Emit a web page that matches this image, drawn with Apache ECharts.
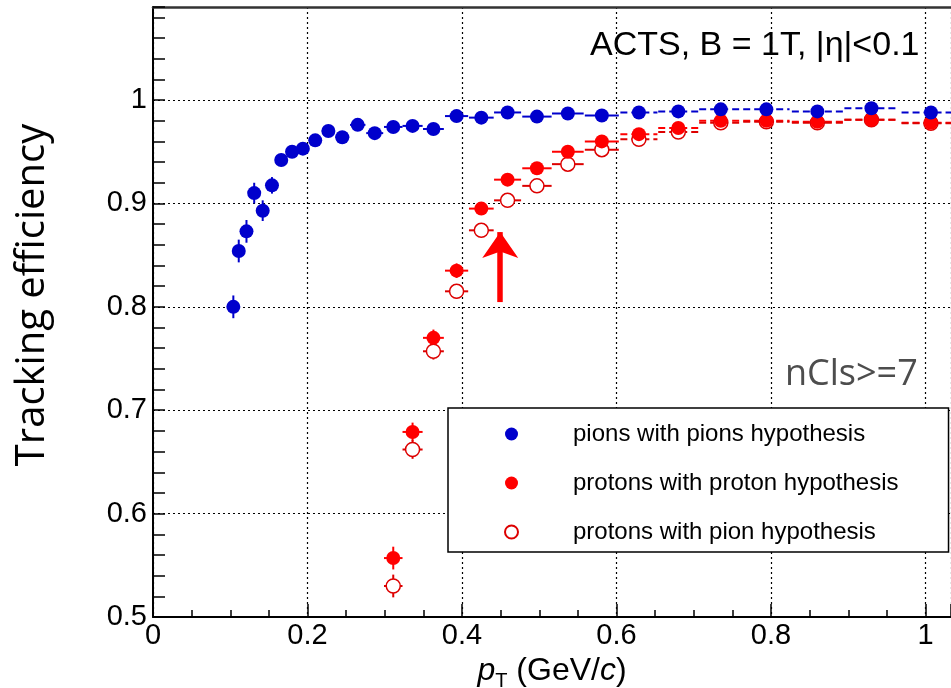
<!DOCTYPE html>
<html>
<head>
<meta charset="utf-8">
<script src="https://cdn.jsdelivr.net/npm/echarts@6/dist/echarts.min.js"></script>
<style>
  html, body { margin: 0; padding: 0; background: #fff; }
  #main { width: 951px; height: 688px; }
</style>
</head>
<body>
<div id="main"></div>
<script>
// pions with pions hypothesis
var pionPt   = [0.104, 0.111, 0.121, 0.131, 0.142, 0.154, 0.166, 0.180, 0.194, 0.210,
                0.227, 0.245, 0.265, 0.287, 0.311, 0.336, 0.363, 0.393, 0.425, 0.459,
                0.497, 0.537, 0.581, 0.629, 0.680, 0.735, 0.794, 0.860, 0.930, 1.007];
var pionEff  = [0.800, 0.854, 0.873, 0.910, 0.893, 0.9175, 0.942, 0.950, 0.953, 0.961,
                0.970, 0.964, 0.976, 0.968, 0.974, 0.975, 0.972, 0.9845, 0.983, 0.988,
                0.984, 0.987, 0.985, 0.988, 0.989, 0.991, 0.991, 0.989, 0.992, 0.988];
var pionPtErr  = [0.003, 0.004, 0.005, 0.005, 0.0055, 0.006, 0.0065, 0.007, 0.0075, 0.008,
                  0.0085, 0.009, 0.010, 0.011, 0.012, 0.013, 0.0135, 0.015, 0.016, 0.0175,
                  0.019, 0.0205, 0.022, 0.024, 0.026, 0.028, 0.030, 0.033, 0.035, 0.038];
var pionEffErr = [0.011, 0.011, 0.011, 0.010, 0.010, 0.008, 0.006, 0.005, 0.005, 0.004,
                  0.004, 0.004, 0.003, 0.003, 0.003, 0.003, 0.003, 0.002, 0.002, 0.002,
                  0.002, 0.002, 0.002, 0.002, 0.002, 0.002, 0.002, 0.002, 0.002, 0.002];

// protons
var protonPt    = [0.311, 0.336, 0.363, 0.393, 0.425, 0.459, 0.497, 0.537, 0.581, 0.629,
                   0.680, 0.735, 0.794, 0.860, 0.930, 1.007];
var protonPtErr = [0.012, 0.013, 0.0135, 0.015, 0.016, 0.0175, 0.019, 0.0205, 0.022, 0.024,
                   0.026, 0.028, 0.030, 0.033, 0.035, 0.038];
var protonEff   = [0.557, 0.679, 0.770, 0.835, 0.895, 0.923, 0.934, 0.950, 0.960, 0.967,
                   0.973, 0.980, 0.980, 0.979, 0.981, 0.978];   // proton hypothesis
var protonPiEff = [0.530, 0.662, 0.757, 0.815, 0.874, 0.903, 0.917, 0.938, 0.952, 0.962,
                   0.969, 0.978, 0.979, 0.978, 0.981, 0.9775];  // pion hypothesis
var protonEffErr = [0.011, 0.009, 0.008, 0.007, 0.006, 0.005, 0.004, 0.004, 0.003, 0.003,
                    0.003, 0.003, 0.003, 0.003, 0.003, 0.003];

var xTicks = [0, 0.2, 0.4, 0.6, 0.8, 1];
var yTicks = [0.5, 0.6, 0.7, 0.8, 0.9, 1];
var arrowPt = 0.4495, arrowFrom = 0.8046, arrowTo = 0.8723;

function pts(xs, ys) {
  return xs.map(function (x, i) { return [x, ys[i]]; });
}
function errs(xs, ys, dxs, dys) {
  return xs.map(function (x, i) { return [x, ys[i], dxs[i], dys[i]]; });
}
function errorBars(color) {
  return function (params, api) {
    var x = api.value(0), y = api.value(1), dx = api.value(2), dy = api.value(3);
    var l = api.coord([x - dx, y]), r = api.coord([x + dx, y]);
    var t = api.coord([x, y + dy]), b = api.coord([x, y - dy]);
    var dashed = x > 0.6;
    return {
      type: 'group',
      children: [
        { type: 'line', shape: { x1: l[0], y1: l[1], x2: r[0], y2: r[1] },
          style: { stroke: color, lineWidth: 2, lineDash: dashed ? [7, 4] : null } },
        { type: 'line', shape: { x1: t[0], y1: t[1], x2: b[0], y2: b[1] },
          style: { stroke: color, lineWidth: 2 } }
      ]
    };
  };
}

var tickFont = 'Liberation Sans, Arial, sans-serif';
var blue = '#0000cc', red = '#ff0000', darkRed = '#dd0000';

var myChart = echarts.init(document.getElementById('main'));
var option = {
  animation: false,
  backgroundColor: '#fff',
  grid: { left: 153, right: 0, top: 7, bottom: 71, outerBoundsMode: 'none', containLabel: false },
  title: [
    { text: 'ACTS, B = 1T, |η|<0.1', left: 590, top: 29, padding: 0,
      textStyle: { fontFamily: 'Liberation Sans, Arial', fontSize: 34, fontWeight: 'normal', color: '#000' } },
    { text: 'nCls>=7', left: 785, top: 357, padding: 0,
      textStyle: { fontFamily: 'Open Sans, Noto Sans', fontSize: 36, fontWeight: 'normal', color: '#4d4d4d' } }
  ],
  legend: {
    orient: 'vertical',
    left: 448, top: 408,
    padding: [11, 50, 5, 56],
    itemGap: 19,
    itemWidth: 13, itemHeight: 13,
    borderColor: '#000', borderWidth: 1.5,
    backgroundColor: '#fff',
    selectedMode: false,
    data: ['pions with pions hypothesis', 'protons with proton hypothesis', 'protons with pion hypothesis'],
    textStyle: { fontFamily: 'Liberation Sans, Arial', fontSize: 24, color: '#000',
                 lineHeight: 30, padding: [0, 0, 0, 50] }
  },
  xAxis: [{
    type: 'value', min: 0, max: 1.033, interval: 0.2,
    name: '{i|p}{s|T} (GeV/{i|c})',
    nameLocation: 'middle', nameGap: 32,
    nameTextStyle: {
      fontFamily: tickFont, fontSize: 32, color: '#000',
      rich: {
        i: { fontFamily: tickFont, fontSize: 32, fontStyle: 'italic', color: '#000' },
        s: { fontFamily: tickFont, fontSize: 20, color: '#000', padding: [22, 0, 0, 0] }
      }
    },
    axisLine: { onZero: false, lineStyle: { color: '#000', width: 2 } },
    axisTick: { inside: true, length: 13, lineStyle: { color: '#000', width: 1.5 } },
    minorTick: { show: true, splitNumber: 4, length: 7, lineStyle: { color: '#000', width: 1.5 } },
    axisLabel: { fontFamily: tickFont, fontSize: 29, color: '#000', margin: 4,
                 customValues: xTicks },
    splitLine: { show: true, lineStyle: { color: '#000', type: [2, 3], width: 1.2 } }
  }, {
    type: 'value', position: 'top', min: 0, max: 1.033,
    axisLine: { show: true, lineStyle: { color: '#333', width: 2.5 } },
    axisTick: { show: false }, axisLabel: { show: false }, splitLine: { show: false }
  }],
  yAxis: {
    type: 'value', min: 0.5, max: 1.09, interval: 0.1,
    name: 'Tracking efficiency',
    nameLocation: 'middle', nameGap: 100,
    nameTextStyle: { fontFamily: 'Open Sans, Noto Sans', fontSize: 40, color: '#000',
                     padding: [0, 0, 0, 34] },
    axisLine: { lineStyle: { color: '#000', width: 2 } },
    axisTick: { inside: true, length: 12, lineStyle: { color: '#000', width: 1.5 } },
    minorTick: { show: true, splitNumber: 5, length: 12, lineStyle: { color: '#000', width: 1.5 } },
    axisLabel: { fontFamily: tickFont, fontSize: 29, color: '#000', margin: 6,
                 customValues: yTicks },
    splitLine: { show: true, lineStyle: { color: '#000', type: [2, 3], width: 1.2 } }
  },
  series: [
    { type: 'custom', name: 'pionErr', renderItem: errorBars(blue), z: 2,
      data: errs(pionPt, pionEff, pionPtErr, pionEffErr), encode: { x: 0, y: 1 }, silent: true },
    { type: 'custom', name: 'protonErr', renderItem: errorBars(red), z: 2,
      data: errs(protonPt, protonEff, protonPtErr, protonEffErr), encode: { x: 0, y: 1 }, silent: true },
    { type: 'custom', name: 'protonPiErr', renderItem: errorBars(darkRed), z: 2,
      data: errs(protonPt, protonPiEff, protonPtErr, protonEffErr), encode: { x: 0, y: 1 }, silent: true },
    { type: 'scatter', name: 'protons with pion hypothesis', z: 3,
      symbol: 'circle', symbolSize: 14,
      itemStyle: { color: '#fff', borderColor: darkRed, borderWidth: 1.5, opacity: 1 },
      data: pts(protonPt, protonPiEff) },
    { type: 'scatter', name: 'protons with proton hypothesis', z: 4,
      symbol: 'circle', symbolSize: 14,
      itemStyle: { color: red, opacity: 1 },
      data: pts(protonPt, protonEff),
      markLine: {
        silent: true, symbol: ['none', 'arrow'], symbolSize: [27, 26],
        label: { show: false },
        lineStyle: { color: red, width: 5.5, type: 'solid', opacity: 1 },
        data: [[{ coord: [arrowPt, arrowFrom] }, { coord: [arrowPt, arrowTo] }]]
      } },
    { type: 'scatter', name: 'pions with pions hypothesis', z: 5,
      symbol: 'circle', symbolSize: 14,
      itemStyle: { color: blue, opacity: 1 },
      data: pts(pionPt, pionEff) }
  ]
};
myChart.setOption(option);
</script>
</body>
</html>
